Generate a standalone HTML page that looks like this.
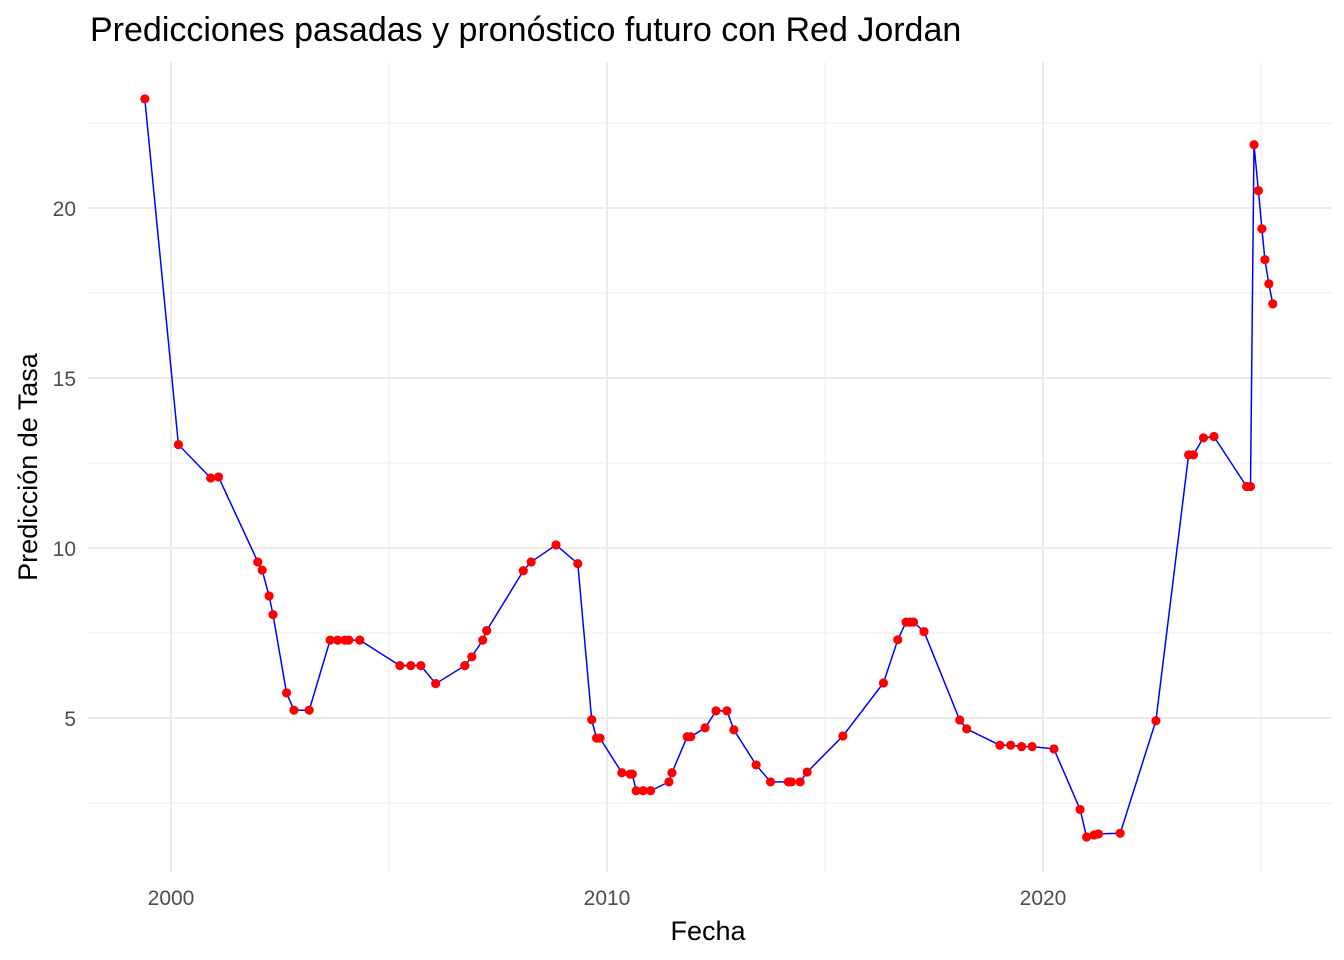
<!DOCTYPE html>
<html><head><meta charset="utf-8">
<style>
html,body{margin:0;padding:0;background:#fff;}
svg{display:block;font-family:"Liberation Sans",Arial,sans-serif;}
</style></head>
<body>
<svg id="chart" width="1344" height="960" viewBox="0 0 1344 960" xmlns="http://www.w3.org/2000/svg">
  <rect width="1344" height="960" fill="#fff"/>
  <g id="grid"></g>
  <g id="series"></g>
  <g id="axes"></g>
  <text x="90" y="41" font-size="34" fill="#000">Predicciones pasadas y pronóstico futuro con Red Jordan</text>
  <text x="708" y="940" font-size="27" text-anchor="middle" fill="#000">Fecha</text>
  <text transform="translate(37,467) rotate(-90)" font-size="27" text-anchor="middle" fill="#000">Predicción de Tasa</text>
</svg>
<script>
const years = [1999.40,2000.17,2000.91,2001.09,2001.99,2002.09,2002.25,2002.34,2002.65,2002.82,2003.17,2003.65,2003.82,2003.99,2004.08,2004.33,2005.25,2005.50,2005.73,2006.07,2006.74,2006.90,2007.15,2007.24,2008.08,2008.26,2008.83,2009.33,2009.65,2009.76,2009.84,2010.34,2010.53,2010.58,2010.67,2010.83,2011.00,2011.42,2011.49,2011.84,2011.92,2012.25,2012.50,2012.75,2012.91,2013.42,2013.75,2014.16,2014.23,2014.43,2014.59,2015.41,2016.34,2016.67,2016.86,2016.95,2017.03,2017.27,2018.09,2018.25,2019.01,2019.26,2019.51,2019.75,2020.25,2020.85,2021.00,2021.17,2021.27,2021.77,2022.59,2023.34,2023.45,2023.68,2023.92,2024.67,2024.76,2024.84,2024.94,2025.02,2025.09,2025.18,2025.27];
const values = [23.21,13.04,12.06,12.09,9.59,9.35,8.59,8.04,5.74,5.23,5.23,7.29,7.29,7.29,7.29,7.29,6.54,6.54,6.54,6.01,6.54,6.80,7.29,7.57,9.33,9.59,10.09,9.54,4.95,4.41,4.41,3.39,3.35,3.35,2.86,2.86,2.86,3.12,3.39,4.45,4.45,4.71,5.21,5.21,4.65,3.62,3.12,3.12,3.12,3.12,3.41,4.47,6.03,7.30,7.82,7.82,7.82,7.54,4.94,4.68,4.20,4.20,4.16,4.16,4.09,2.31,1.50,1.56,1.59,1.61,4.92,12.74,12.74,13.24,13.28,11.81,11.81,21.86,20.51,19.39,18.48,17.77,17.18];
const xTicks = [2000,2010,2020];
const xMinor = [2005,2015,2025];
const yTicks = [5,10,15,20];
const yMinor = [2.5,7.5,12.5,17.5,22.5];

const NS = "http://www.w3.org/2000/svg";
const L = 88, R = 1332, T = 62, B = 872;
function xs(v){ return 171 + (v - 2000) * 43.6; }
function ys(v){ return 718 - (v - 5) * 34; }
function mk(tag, attrs, parent){ const e = document.createElementNS(NS, tag); for (const k in attrs) e.setAttribute(k, attrs[k]); parent.appendChild(e); return e; }

const grid = document.getElementById('grid');
const axes = document.getElementById('axes');
yMinor.forEach(v => {
  const l = mk('line', {x1:L, x2:R, y1:ys(v), y2:ys(v), stroke:'#ebebeb', 'stroke-width':1}, grid);
  
  
});
xMinor.forEach(v => {
  const l = mk('line', {x1:xs(v), x2:xs(v), y1:T, y2:B, stroke:'#ebebeb', 'stroke-width':1}, grid);
  
  
});
yTicks.forEach(v => {
  const l = mk('line', {x1:L, x2:R, y1:ys(v), y2:ys(v), stroke:'#ebebeb', 'stroke-width':2}, grid);
  
  
  const t = mk('text', {x:76, y:ys(v)+8, 'font-size':21, fill:'#4d4d4d', 'text-anchor':'end'}, axes);
  t.textContent = v;
  
  
});
xTicks.forEach(v => {
  const l = mk('line', {x1:xs(v), x2:xs(v), y1:T, y2:B, stroke:'#ebebeb', 'stroke-width':2}, grid);
  
  
  const t = mk('text', {x:xs(v), y:905, 'font-size':21, fill:'#4d4d4d', 'text-anchor':'middle'}, axes);
  t.textContent = v;
  
  
});

const series = document.getElementById('series');
const pts = years.map((y,i) => xs(y).toFixed(1) + ',' + ys(values[i]).toFixed(1)).join(' ');
const line = mk('polyline', {points:pts, fill:'none', stroke:'#0000ff', 'stroke-width':1.5}, series);


years.forEach((y,i) => {
  const c = mk('circle', {cx:xs(y), cy:ys(values[i]), r:4.6, fill:'#ff0000'}, series);
  
  
});
</script>
</body></html>
